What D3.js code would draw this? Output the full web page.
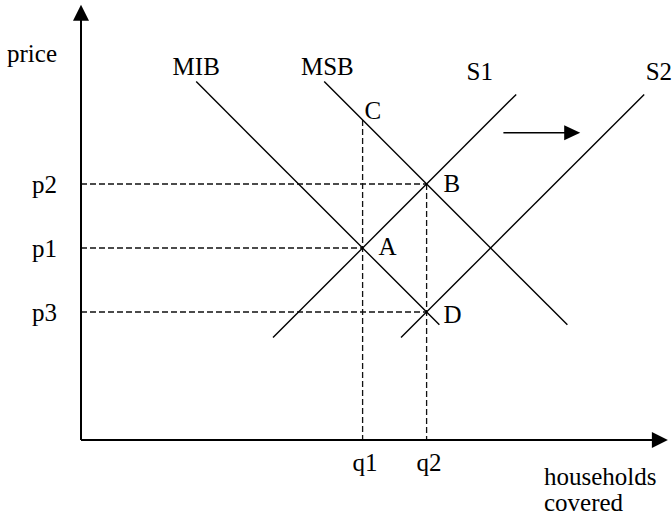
<!DOCTYPE html>
<html>
<head>
<meta charset="utf-8">
<script src="https://cdn.jsdelivr.net/npm/d3@7"></script>
<style>
  body { margin: 0; background: #fff; }
  svg { display: block; }
  text { font-family: "Liberation Serif", "Times New Roman", serif; font-size: 25px; fill: #000; }
</style>
</head>
<body>
<div class="chart"></div>
<script>
// price levels on the vertical axis, quantities on the horizontal one
var priceLevels = [4, 3, 2];
var priceLabels = ["p2", "p1", "p3"];
var quantityLevels = [4.4, 5.4];
var quantityLabels = ["q1", "q2"];

// straight-line curves: benefit curves slope down, supply curves slope up
var curveNames = ["MIB", "MSB", "S1", "S2"];
var curveStart = [[1.8, 5.6], [3.8, 5.6], [3.0, 1.6], [5.0, 1.6]];
var curveEnd = [[5.6, 1.8], [7.6, 1.8], [6.8, 5.4], [8.8, 5.4]];
var curveLabelAt = [[1.8, 5.7], [3.85, 5.7], [6.23, 5.625], [9.03, 5.625]];

// marked points
var pointNames = ["C", "B", "A", "D"];
var pointXY = [[4.4, 5.0], [5.4, 4.0], [4.4, 3.0], [5.4, 2.0]];

// shift of supply from S1 to S2
var shiftFrom = [6.6, 4.8];
var shiftTo = [7.8, 4.8];

var width = 672, height = 518;

var svg = d3.select(".chart").append("svg")
    .attr("width", width)
    .attr("height", height);

var x = d3.scaleLinear().domain([0, 9.25]).range([81, 673]);
var y = d3.scaleLinear().domain([0, 6.8]).range([440, 4.8]);

var xMax = 9.17, yMax = 6.8;

// dashed guides
var guides = svg.append("g")
    .attr("stroke", "#111")
    .attr("stroke-width", 1.3)
    .attr("stroke-dasharray", "6,3");

priceLevels.forEach(function(p, i) {
  // run across to the point where that price is reached
  var px = [5.4, 4.4, 5.4][i];
  guides.append("line")
      .attr("x1", x(0)).attr("y1", y(p))
      .attr("x2", x(px)).attr("y2", y(p));
});

quantityLevels.forEach(function(q, i) {
  var top = [5.0, 4.0][i];
  guides.append("line")
      .attr("x1", x(q)).attr("y1", y(top))
      .attr("x2", x(q)).attr("y2", y(0));
});

// curves
svg.append("g")
    .attr("class", "curves")
  .selectAll("line")
  .data(curveNames)
  .enter().append("line")
    .attr("x1", function(d, i) { return x(curveStart[i][0]); })
    .attr("y1", function(d, i) { return y(curveStart[i][1]); })
    .attr("x2", function(d, i) { return x(curveEnd[i][0]); })
    .attr("y2", function(d, i) { return y(curveEnd[i][1]); })
    .attr("stroke", "#000")
    .attr("stroke-width", 1.4);

svg.append("g")
  .selectAll("text")
  .data(curveNames)
  .enter().append("text")
    .attr("x", function(d, i) { return x(curveLabelAt[i][0]); })
    .attr("y", function(d, i) { return y(curveLabelAt[i][1]); })
    .attr("text-anchor", "middle")
    .text(function(d) { return d; });

// point labels
var pointOffset = { C: [2, -1], B: [17, 8], A: [16, 7], D: [17, 11] };

svg.append("g")
  .selectAll("text")
  .data(pointNames)
  .enter().append("text")
    .attr("x", function(d, i) { return x(pointXY[i][0]) + pointOffset[d][0]; })
    .attr("y", function(d, i) { return y(pointXY[i][1]) + pointOffset[d][1]; })
    .text(function(d) { return d; });

// shift arrow
svg.append("line")
    .attr("x1", x(shiftFrom[0])).attr("y1", y(shiftFrom[1]))
    .attr("x2", x(shiftTo[0]) - 14).attr("y2", y(shiftTo[1]))
    .attr("stroke", "#000")
    .attr("stroke-width", 1.5);

svg.append("path")
    .attr("d", "M" + x(shiftTo[0]) + "," + y(shiftTo[1]) +
               "l-16,-7.5 l0,15 z")
    .attr("fill", "#000");

// axes
svg.append("line")
    .attr("x1", x(0)).attr("y1", y(0))
    .attr("x2", x(0)).attr("y2", y(yMax) + 14)
    .attr("stroke", "#000")
    .attr("stroke-width", 2);

svg.append("path")
    .attr("d", "M" + x(0) + "," + y(yMax) + "l-8,16 l16,0 z")
    .attr("fill", "#000");

svg.append("line")
    .attr("x1", x(0)).attr("y1", y(0))
    .attr("x2", x(xMax) - 14).attr("y2", y(0))
    .attr("stroke", "#000")
    .attr("stroke-width", 2);

svg.append("path")
    .attr("d", "M" + x(xMax) + "," + y(0) + "l-16,-8 l0,16 z")
    .attr("fill", "#000");

// tick labels through d3 axes, without their own lines
svg.append("g")
    .attr("transform", "translate(" + x(0) + ",0)")
    .call(d3.axisLeft(y)
        .tickValues(priceLevels)
        .tickFormat(function(d, i) { return priceLabels[i]; })
        .tickSize(0)
        .tickPadding(24));

var xAxis = svg.append("g")
    .attr("transform", "translate(0," + y(0) + ")")
    .call(d3.axisBottom(x)
        .tickValues(quantityLevels)
        .tickFormat(function(d, i) { return quantityLabels[i]; })
        .tickSize(0)
        .tickPadding(13));

svg.selectAll(".domain").remove();
svg.selectAll(".tick text")
    .attr("font-family", null)
    .attr("font-size", null)
    .attr("fill", null);
xAxis.selectAll(".tick text").attr("dx", 2);

// axis titles
svg.append("text")
    .attr("x", x(0) - 24)
    .attr("y", 62)
    .attr("text-anchor", "end")
    .text("price");

var xTitle = svg.append("text")
    .attr("x", 544)
    .attr("y", 485);
xTitle.append("tspan").attr("x", 544).text("households");
xTitle.append("tspan").attr("x", 544).attr("dy", 26).text("covered");
</script>
</body>
</html>
